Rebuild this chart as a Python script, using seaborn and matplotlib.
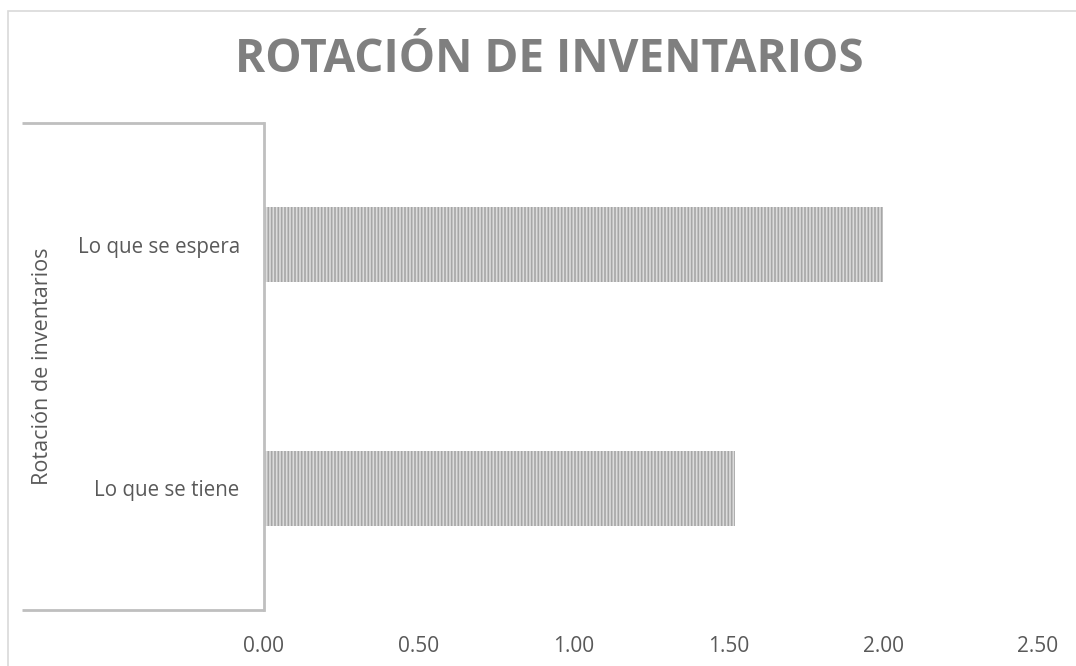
import matplotlib
matplotlib.use("Agg")
import matplotlib.pyplot as plt
import seaborn as sns
import pandas as pd
from matplotlib.patches import Rectangle

categories = ["Lo que se espera", "Lo que se tiene"]
values = [2.00, 1.52]
xticks = [0.0, 0.5, 1.0, 1.5, 2.0, 2.5]
title = "ROTACIÓN DE INVENTARIOS"
ylabel = "Rotación de inventarios"

sns.set_theme(style="white")
plt.rcParams["font.family"] = ["Open Sans", "DejaVu Sans"]
plt.rcParams["hatch.linewidth"] = 1.2

df = pd.DataFrame({"cat": categories, "val": values})

fig = plt.figure(figsize=(10.76, 6.66), dpi=100)
ax = fig.add_axes([264/1076, 1-610/666, (1038-264)/1076, (610-123)/666])

sns.barplot(data=df, y="cat", x="val", orient="h", ax=ax, width=0.31,
            color="#d9d9d9", linewidth=0)
for p in ax.patches:
    p.set_hatch("|||||")
    p.set_edgecolor("#a6a6a6")
    p.set_facecolor("#dcdcdc")
    p.set_linewidth(0)

ax.set_xlim(0, 2.5)
ax.set_ylim(1.5, -0.5)
ax.set_xticks(xticks)
ax.set_xticklabels([f"{t:.2f}" for t in xticks], color="#595959", fontsize=15)
ax.tick_params(axis="x", length=0, pad=18.5)
ax.tick_params(axis="y", length=0, pad=17.5, labelsize=14.8, labelcolor="#595959")
ax.set_xlabel("")
ax.set_ylabel(ylabel, fontsize=15.6, color="#595959")
ax.yaxis.set_label_coords((53-264)/774, 0.5)

for s in ["top", "right", "bottom"]:
    ax.spines[s].set_visible(False)
ax.spines["left"].set_color("#bfbfbf")
ax.spines["left"].set_linewidth(2)

# multi-level category bracket lines
for yy in (0, 1):
    ax.plot([-(264-22)/774, 0], [yy, yy], transform=ax.transAxes, clip_on=False,
            color="#bfbfbf", lw=2, solid_capstyle="butt")

fig.text(549/1076, 1-60/666, title, ha="center", va="center", fontsize=33,
         fontweight="bold", color="#7f7f7f")

fig.patches.append(Rectangle((8/1076, -0.1), 1.2, 1-11/666+0.1, transform=fig.transFigure,
                             fill=False, edgecolor="#d9d9d9", lw=1.2, zorder=-1))

fig.savefig("out.png", dpi=100)
